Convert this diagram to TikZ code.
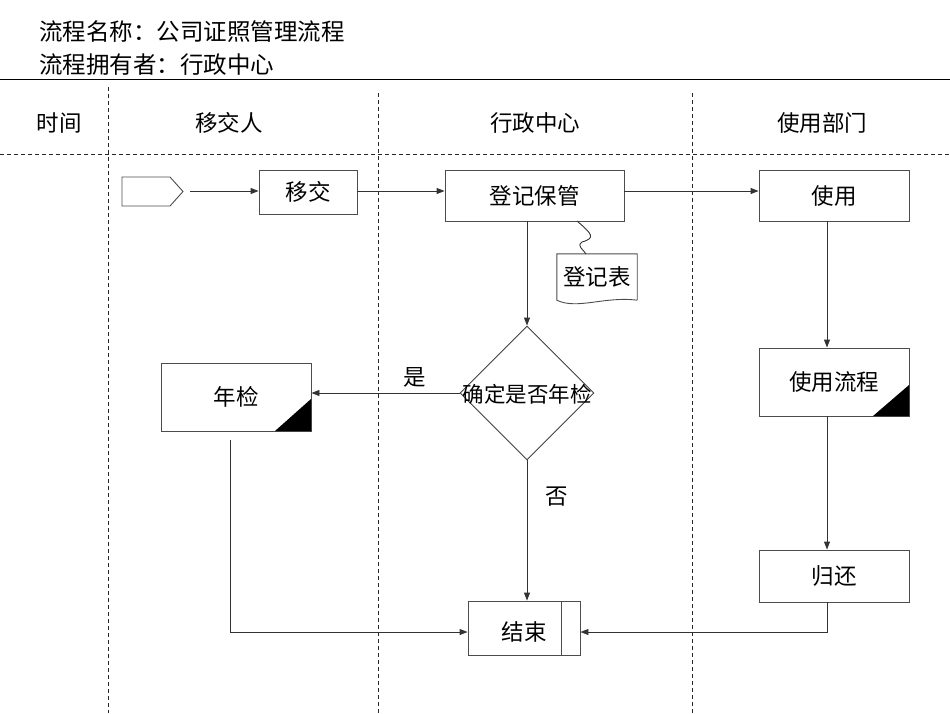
\documentclass[tikz,border=0pt]{standalone}
\usepackage{fontspec}
\newfontfamily\cjk{Noto Sans CJK SC}
\usetikzlibrary{arrows.meta,shapes.geometric}
\begin{document}
\begin{tikzpicture}[x=1pt,y=-1pt,
  font=\cjk\fontsize{22.5}{26}\selectfont,
  box/.style={draw=black!70, line width=0.9pt, inner sep=0pt},
  lane/.style={black!85, line width=0.8pt, dash pattern=on 4pt off 3pt},
  conn/.style={black!80, line width=0.9pt},
  arr/.style={conn, -{Triangle[length=8pt,width=6pt]}},
  lbl/.style={inner sep=0pt}]
\useasboundingbox (0,0) rectangle (950,713);

% title
\node[lbl, anchor=west, font=\cjk\fontsize{23.5}{26}\selectfont] (t1) at (39,32) {流程名称：公司证照管理流程};
\node[lbl, anchor=west, font=\cjk\fontsize{23.5}{26}\selectfont] (t2) at (39,65) {流程拥有者：行政中心};
\draw[black, line width=0.9pt] (0,79) -- (950,79);

% lanes
\draw[lane] (108,87) -- (108,713);
\draw[lane] (378,93) -- (378,713);
\draw[lane] (692,93) -- (692,713);
\draw[lane] (0,154) -- (950,154);

\node[lbl] (h0) at (59,123) {时间};
\node[lbl] (h1) at (229,123) {移交人};
\node[lbl] (h2) at (535,123) {行政中心};
\node[lbl] (h3) at (822,123) {使用部门};

% start pentagon
\draw[box] (122,177) -- (170,177) -- (183,191.5) -- (170,206) -- (122,206) -- cycle;
\coordinate (start) at (190,191);

\node[box, minimum width=98, minimum height=44] (yj) at (308,192) {移交};
\node[box, minimum width=179, minimum height=51] (dj) at (534.5,195.5) {登记保管};
\node[box, minimum width=150, minimum height=51] (sy) at (834,195.5) {使用};

\draw[arr] (start) -- (yj.west |- start);
\draw[arr] (yj.east |- start) -- (dj.west |- start);
\draw[arr] (dj.east |- start) -- (sy.west |- start);

% document
\node[lbl, minimum width=80, minimum height=46] (doc) at (597,277) {登记表};
\draw[box] (doc.south east) -- (doc.north east) -- (doc.north west) -- (doc.south west)
  .. controls (577,310) and (605,296) .. (doc.south east);
\coordinate (w0) at (577,221);
\draw[conn] (w0) .. controls (592,234) and (596,238) .. (582,242) .. controls (576,246) and (584,250) .. (586,254);

% decision
\node[draw=black!75, line width=0.9pt, diamond, minimum width=134, minimum height=134, inner sep=0pt] (dec) at (527,393) {};
\node[lbl, font=\cjk\fontsize{21.5}{24}\selectfont] (dect) at (527,394) {确定是否年检};
\coordinate (dtop) at (527,221);
\draw[arr] (dtop) -- (dec.north);

\node[box, minimum width=150, minimum height=68] (nj) at (236,397) {年检};
\fill[black] (275,431) -- (311,431) -- (311,399) -- cycle;
\draw[arr] (dec.west) -- (nj.east |- dec.west);
\node[lbl] (yes) at (415,377) {是};

\node[box, minimum width=112, minimum height=54] (js) at (524,628) {};
\draw[black!70, line width=0.9pt] (561,601) -- (561,655);
\node[lbl] (jst) at (524,632) {结束};
\draw[arr] (dec.south) -- (js.north -| dec.south);
\node[lbl] (no) at (557,497) {否};

\coordinate (njb) at (230,440);
\draw[arr] (njb) -- (230,632) -- (js.west |- 0,632);

% right lane
\node[box, minimum width=150, minimum height=68] (lc) at (834,382) {使用流程};
\fill[black] (873,416) -- (909,416) -- (909,385) -- cycle;
\node[box, minimum width=150, minimum height=52] (gh) at (834,576) {归还};

\draw[arr] (sy.south -| 827,0) -- (lc.north -| 827,0);
\draw[arr] (lc.south -| 827,0) -- (gh.north -| 827,0);
\draw[arr] (gh.south -| 827,0) -- (827,632) -- (js.east |- 0,632);
\end{tikzpicture}
\end{document}
